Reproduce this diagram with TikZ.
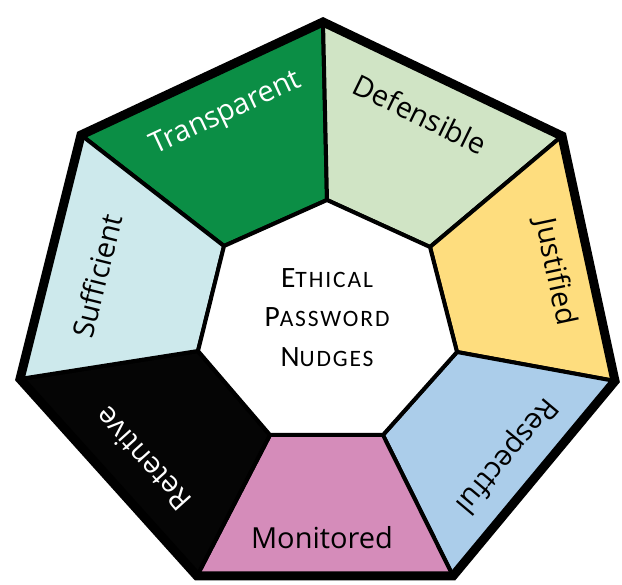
\documentclass[tikz,border=0pt]{standalone}
\usepackage{fontspec}
\setmainfont{Open Sans}
\newfontfamily\cfont[LetterSpace=8]{Carlito}
\definecolor{cTrans}{HTML}{0B8E45}
\definecolor{cDef}{HTML}{D0E4C5}
\definecolor{cJust}{HTML}{FEDD7E}
\definecolor{cResp}{HTML}{ABCDEA}
\definecolor{cMon}{HTML}{D58CBA}
\definecolor{cRet}{HTML}{050505}
\definecolor{cSuff}{HTML}{CDE9EC}
\newcommand{\mysc}[2]{{\fontsize{29.5}{30}\selectfont #1}{\fontsize{23.5}{24}\selectfont #2}}
\begin{document}
\begin{tikzpicture}[x=1pt,y=-1pt,
  seg/.style={draw=black,line width=4pt,line join=miter},
  lab/.style={font=\fontsize{29}{30}\selectfont,inner sep=0pt},
  ctext/.style={font=\cfont,inner sep=0pt,anchor=base}]
\useasboundingbox (0,0) rectangle (622,585);
\coordinate (O1) at (323,22);
\coordinate (O2) at (562,136);
\coordinate (O3) at (615,381);
\coordinate (O4) at (453,576);
\coordinate (O5) at (197,576);
\coordinate (O6) at (20,379);
\coordinate (O7) at (81,135);
\coordinate (I1) at (327,200);
\coordinate (I2) at (430,247);
\coordinate (I3) at (457,352);
\coordinate (I4) at (383,435);
\coordinate (I5) at (270,435);
\coordinate (I6) at (198,351);
\coordinate (I7) at (224,246);
\path[seg,fill=cTrans] (O7) -- (O1) -- (I1) -- (I7) -- cycle;
\path[seg,fill=cDef] (O1) -- (O2) -- (I2) -- (I1) -- cycle;
\path[seg,fill=cJust] (O2) -- (O3) -- (I3) -- (I2) -- cycle;
\path[seg,fill=cResp] (O3) -- (O4) -- (I4) -- (I3) -- cycle;
\path[seg,fill=cMon] (O4) -- (O5) -- (I5) -- (I4) -- cycle;
\path[seg,fill=cRet] (O5) -- (O6) -- (I6) -- (I5) -- cycle;
\path[seg,fill=cSuff] (O6) -- (O7) -- (I7) -- (I6) -- cycle;
\draw[seg,fill=white] (I1) -- (I2) -- (I3) -- (I4) -- (I5) -- (I6) -- (I7) -- cycle;
\draw[line width=9pt,line join=miter] (O1) -- (O2) -- (O3) -- (O4) -- (O5) -- (O6) -- (O7) -- cycle;
\node[lab,text=white,rotate=25] (transparent) at (226,114) {Transparent};
\node[lab,rotate=-26] (defensible) at (420,114) {Defensible};
\node[lab,rotate=-78] (justified) at (555,272) {Justified};
\node[lab,rotate=-130] (respectful) at (506,455) {Respectful};
\node[lab] (monitored) at (322,538) {Monitored};
\node[lab,text=white,rotate=132] (retentive) at (143,459) {Retentive};
\node[lab,rotate=76] (sufficient) at (97,276) {Sufficient};
\node[ctext] (ethical) at (327,288) {\mysc{E}{THICAL}};
\node[ctext] (password) at (327,327) {\mysc{P}{ASSWORD}};
\node[ctext] (nudges) at (327,367) {\mysc{N}{UDGES}};
\end{tikzpicture}
\end{document}
